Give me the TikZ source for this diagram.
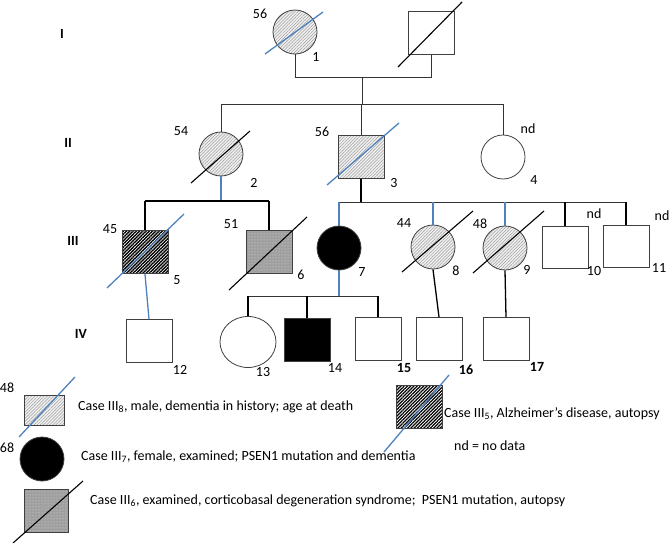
\documentclass[tikz,border=0pt]{standalone}
\usepackage{fontspec}
\setmainfont{Carlito}
\usetikzlibrary{patterns.meta,shapes.geometric}
\definecolor{pblue}{RGB}{79,129,189}
\begin{document}
\begin{tikzpicture}[x=1pt,y=-1pt,
  every node/.style={font=\fontsize{14}{16}\selectfont},
  ind/.style={draw=black!75, line width=0.8pt, inner sep=0pt},
  fem/.style={ind, circle, minimum size=44pt},
  mal/.style={ind, rectangle, minimum width=46pt, minimum height=43pt},
  lab/.style={inner sep=0pt},
  bnum/.style={inner sep=0pt, font=\fontsize{14}{16}\selectfont\bfseries},
  gen/.style={inner sep=0pt, font=\fontsize{14}{16}\selectfont\bfseries},
  ln/.style={line width=0.8pt, draw=black!80},
  thk/.style={line width=1.3pt, draw=black},
  bl/.style={line width=1.3pt, draw=pblue},
  dblk/.style={line width=1.1pt, draw=black},
  dblu/.style={line width=1.3pt, draw=pblue},
  lighthatch/.style={preaction={fill=gray!12}, pattern={Lines[angle=45,distance=2.2pt,line width=0.5pt]}, pattern color=gray!75},
  densehatch/.style={preaction={fill=white}, pattern={Lines[angle=45,distance=2.3pt,line width=1.3pt]}, pattern color=black},
  dotgray/.style={preaction={fill=gray!75}, pattern={Dots[distance=3pt,radius=0.5pt]}, pattern color=gray!25}
]
\useasboundingbox (0,0) rectangle (669,543);

% generation labels
\node[gen] (gI) at (62,34) {I};
\node[gen] (gII) at (68,143) {II};
\node[gen] (gIII) at (73,241) {III};
\node[gen] (gIV) at (81,334) {IV};

% Generation I
\node[fem, lighthatch] (i1) at (295,32) {};
\node[mal] (i2) at (431,33) {};
\draw[dblu] (265,54) -- (323,12);
\draw[dblk] (398,67) -- (462,2);
\node[lab] (t56a) at (260,14) {56};
\node[lab] (t1) at (316,57) {1};

\coordinate (mar) at (362,77);
\coordinate (sib2) at (362,104);
\draw[ln] (i1.south) -- (i1.south |- mar) -- (i2.south |- mar) -- (i2.south);
\draw[ln] (mar) -- (sib2);

% Generation II
\node[fem, lighthatch] (ii2) at (221,154) {};
\node[mal, lighthatch] (ii3) at (361,157) {};
\node[fem] (ii4) at (503,157) {};
\draw[ln] (ii2.north |- sib2) -- (ii4.north |- sib2);
\draw[ln] (ii2.north) -- (ii2.north |- sib2);
\draw[ln] (ii3.north) -- (ii3.north |- sib2);
\draw[ln] (ii4.north) -- (ii4.north |- sib2);
\draw[dblk] (191,183) -- (250,131);
\draw[dblu] (327,185) -- (399,123);
\node[lab] (t54) at (181,131) {54};
\node[lab] (t2) at (254,183) {2};
\node[lab] (t56b) at (322,132) {56};
\node[lab] (t3) at (394,183) {3};
\node[lab] (tnd4) at (528,129) {nd};
\node[lab] (t4) at (534,180) {4};

% Generation III
\node[mal, densehatch] (iii5) at (145,252) {};
\node[mal, dotgray] (iii6) at (269,252) {};
\node[fem, fill=black] (iii7) at (339,248) {};
\node[fem, lighthatch] (iii8) at (433,247) {};
\node[fem, lighthatch] (iii9) at (505,248) {};
\node[mal, minimum height=42pt] (iii10) at (565,247) {};
\node[mal, minimum height=42pt] (iii11) at (626,246) {};

\coordinate (sib3a) at (221,201);
\coordinate (sib3b) at (361,202);
\draw[bl] (ii2.south) -- (sib3a);
\draw[thk] (iii5.north |- sib3a) -- (iii6.north |- sib3a);
\draw[thk] (iii5.north) -- (iii5.north |- sib3a);
\draw[thk] (iii6.north) -- (iii6.north |- sib3a);

\draw[thk] (ii3.south) -- (sib3b);
\draw[ln] (iii7.north |- sib3b) -- (iii11.north |- sib3b);
\draw[bl] (iii7.north) -- (iii7.north |- sib3b);
\draw[bl] (iii8.north) -- (iii8.north |- sib3b);
\draw[bl] (iii9.north) -- (iii9.north |- sib3b);
\draw[thk] (iii10.north) -- (iii10.north |- sib3b);
\draw[thk] (iii11.north) -- (iii11.north |- sib3b);

\draw[dblu] (107,288) -- (184,214);
\draw[dblk] (229,290) -- (307,217);
\draw[dblk] (402,272) -- (473,211);
\draw[dblk] (473,273) -- (544,211);

\node[lab] (t45) at (110,229) {45};
\node[lab] (t5) at (177,280) {5};
\node[lab] (t51) at (231,224) {51};
\node[lab] (t6) at (301,275) {6};
\node[lab] (t7) at (362,272) {7};
\node[lab] (t44) at (404,223) {44};
\node[lab] (t8) at (456,271) {8};
\node[lab] (t48) at (480,224) {48};
\node[lab] (t9) at (527,270) {9};
\node[lab] (tnd10) at (594,214) {nd};
\node[lab] (t10) at (594,271) {10};
\node[lab] (tnd11) at (662,216) {nd};
\node[lab] (t11) at (659,268) {11};

% Generation IV
\node[mal] (iv12) at (149,341) {};
\node[ind, ellipse, minimum width=56pt, minimum height=51pt] (iv13) at (248,342) {};
\node[mal, fill=black] (iv14) at (307,340) {};
\node[mal] (iv15) at (378,339) {};
\node[mal] (iv16) at (439,339) {};
\node[mal] (iv17) at (506,339) {};

\coordinate (sib4) at (339,296);
\draw[bl] (iii7.south) -- (sib4);
\draw[ln] (iv13.north |- sib4) -- (iv15.north |- sib4);
\draw[thk] (iv13.north) -- (iv13.north |- sib4);
\draw[thk] (iv14.north) -- (iv14.north |- sib4);
\draw[thk] (iv15.north) -- (iv15.north |- sib4);
\draw[bl] (iii5.south) -- (iv12.north);
\draw[thk] (iii8.south) -- (iv16.north);
\draw[thk] (iii9.south) -- (iv17.north);

\node[lab] (t12) at (180,370) {12};
\node[lab] (t13) at (263,372) {13};
\node[lab] (t14) at (335,368) {14};
\node[bnum] (t15) at (404,368) {15};
\node[bnum] (t16) at (466,370) {16};
\node[bnum] (t17) at (537,367) {17};

% Legend
\node[ind, lighthatch, minimum width=40pt, minimum height=30pt] (L1) at (44,410) {};
\draw[dblu] (19,437) -- (75,377);
\node[lab] (L1n) at (7,388) {48};
\node[lab, anchor=west] (L1t) at (78,407) {Case III\textsubscript{8}, male, dementia in history; age at death};

\node[ind, circle, fill=black, minimum size=44pt] (L2) at (42,459) {};
\node[lab] (L2n) at (7,448) {68};
\node[lab, anchor=west] (L2t) at (81,457) {Case III\textsubscript{7}, female, examined; PSEN1 mutation and dementia};

\node[ind, dotgray, minimum width=44pt, minimum height=43pt] (L3) at (46,511) {};
\draw[dblk] (13,543) -- (83,481);
\node[lab, anchor=west] (L3t) at (90,501) {Case III\textsubscript{6}, examined, corticobasal degeneration syndrome;\ \ PSEN1 mutation, autopsy};

\node[ind, densehatch, minimum width=46pt, minimum height=43pt] (L4) at (419,407) {};
\draw[dblu] (384,452) -- (449,375);
\node[lab, anchor=west] (L4t) at (444,414) {Case III\textsubscript{5}, Alzheimer’s disease, autopsy};
\node[lab, anchor=west] (L5t) at (454,446) {nd = no data};
\end{tikzpicture}
\end{document}
